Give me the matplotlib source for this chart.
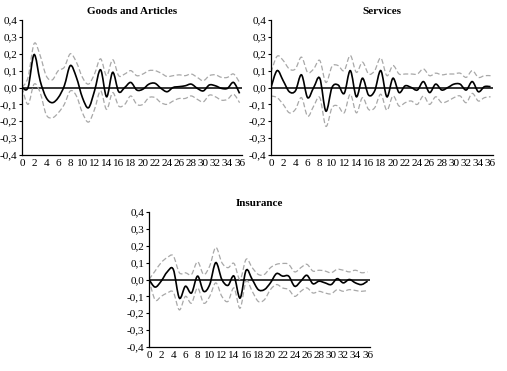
import matplotlib
matplotlib.use("Agg")
import matplotlib.pyplot as plt
from matplotlib.path import Path
from matplotlib.patches import PathPatch
from matplotlib.ticker import FuncFormatter

plt.rcParams['font.family'] = ['Liberation Serif', 'DejaVu Serif']

lags = list(range(37))

goods = [0.0, 0.0, 0.195, 0.04, -0.06, -0.09, -0.06, 0.01, 0.13, 0.06, -0.06, -0.12,
         -0.02, 0.105, -0.055, 0.09, -0.025, 0.0, 0.03, -0.015, -0.01, 0.02, 0.025,
         -0.005, -0.025, 0.0, 0.005, 0.01, 0.02, -0.005, -0.02, 0.015, 0.01, -0.005,
         -0.005, 0.03, -0.035]
goods_up = [0.0, 0.06, 0.26, 0.19, 0.07, 0.045, 0.1, 0.12, 0.2, 0.15, 0.06, 0.02,
            0.08, 0.17, 0.07, 0.165, 0.07, 0.08, 0.1, 0.07, 0.08, 0.1, 0.1, 0.085,
            0.065, 0.07, 0.075, 0.07, 0.08, 0.06, 0.04, 0.07, 0.075, 0.06, 0.06,
            0.08, 0.03]
goods_lo = [0.0, -0.1, 0.02, -0.03, -0.16, -0.18, -0.15, -0.1, -0.02, -0.05, -0.15,
            -0.205, -0.13, -0.02, -0.13, -0.03, -0.11, -0.1, -0.05, -0.1, -0.1, -0.06,
            -0.06, -0.09, -0.1, -0.08, -0.065, -0.065, -0.05, -0.07, -0.085, -0.045,
            -0.055, -0.075, -0.07, -0.04, -0.09]

services = [0.0, 0.1, 0.04, -0.025, -0.02, 0.075, -0.06, 0.0, 0.055, -0.14, 0.0,
            0.015, -0.035, 0.1, -0.055, 0.055, -0.045, -0.02, 0.1, -0.055, 0.055,
            -0.03, 0.01, 0.0, -0.015, 0.035, -0.03, 0.02, -0.015, 0.0, 0.02, 0.02,
            -0.015, 0.035, -0.025, 0.005, 0.005]
services_up = [0.09, 0.185, 0.16, 0.11, 0.11, 0.18, 0.09, 0.11, 0.16, 0.03, 0.125,
               0.13, 0.1, 0.19, 0.09, 0.15, 0.08, 0.1, 0.175, 0.07, 0.13, 0.08, 0.08,
               0.08, 0.08, 0.11, 0.07, 0.085, 0.075, 0.08, 0.08, 0.085, 0.06, 0.1,
               0.06, 0.07, 0.07]
services_lo = [-0.05, -0.06, -0.1, -0.15, -0.13, -0.06, -0.17, -0.11, -0.06, -0.23,
               -0.12, -0.11, -0.15, -0.04, -0.15, -0.06, -0.13, -0.12, -0.04, -0.135,
               -0.05, -0.11, -0.09, -0.08, -0.1, -0.05, -0.1, -0.055, -0.09, -0.08,
               -0.06, -0.05, -0.09, -0.035, -0.08, -0.06, -0.055]

insurance = [0.0, -0.045, -0.01, 0.045, 0.06, -0.11, -0.04, -0.08, 0.02, -0.07,
             -0.03, 0.1, 0.0, -0.035, 0.02, -0.11, 0.055, 0.0, -0.06, -0.06, -0.02,
             0.035, 0.02, 0.02, -0.04, -0.01, 0.025, -0.025, -0.01, -0.02, -0.03,
             0.005, -0.02, 0.0, -0.02, -0.03, -0.01]
insurance_up = [0.0, 0.05, 0.1, 0.13, 0.14, 0.04, 0.04, 0.03, 0.105, 0.03, 0.08,
                0.19, 0.1, 0.07, 0.095, 0.0, 0.12, 0.07, 0.03, 0.03, 0.07, 0.09,
                0.095, 0.09, 0.045, 0.07, 0.09, 0.05, 0.055, 0.05, 0.04, 0.06, 0.055,
                0.045, 0.055, 0.04, 0.045]
insurance_lo = [0.0, -0.12, -0.1, -0.08, -0.075, -0.18, -0.1, -0.14, -0.05, -0.14,
                -0.1, -0.02, -0.1, -0.13, -0.05, -0.17, -0.01, -0.07, -0.13, -0.12,
                -0.06, -0.03, -0.05, -0.06, -0.1, -0.07, -0.05, -0.08, -0.07, -0.08,
                -0.085, -0.06, -0.07, -0.06, -0.065, -0.07, -0.065]

panels = [
    ("Goods and Articles", goods, goods_up, goods_lo, [22/507, 1-155/371, 220/507, 135/371]),
    ("Services", services, services_up, services_lo, [271/507, 1-155/371, 222/507, 135/371]),
    ("Insurance", insurance, insurance_up, insurance_lo, [149/507, 1-347/371, 221/507, 135/371]),
]


def smooth_line(ax, xs, ys, **kw):
    # Excel-style smoothed line: cubic Bezier segments through each point
    pts = list(zip(xs, ys))
    n = len(pts)
    verts = [pts[0]]
    codes = [Path.MOVETO]
    for i in range(n - 1):
        p0 = pts[i - 1] if i > 0 else pts[i]
        p1 = pts[i]
        p2 = pts[i + 1]
        p3 = pts[i + 2] if i + 2 < n else pts[i + 1]
        c1 = (p1[0] + (p2[0] - p0[0]) / 6, p1[1] + (p2[1] - p0[1]) / 6)
        c2 = (p2[0] - (p3[0] - p1[0]) / 6, p2[1] - (p3[1] - p1[1]) / 6)
        verts += [c1, c2, p2]
        codes += [Path.CURVE4] * 3
    ax.add_patch(PathPatch(Path(verts, codes), fill=False, **kw))


fig = plt.figure(figsize=(5.07, 3.71), dpi=100)

for title, mid, up, lo, rect in panels:
    ax = fig.add_axes(rect)
    ax.axhline(0, color='black', lw=1.1, zorder=1)
    smooth_line(ax, lags, up, edgecolor='#a8a8a8', lw=0.9, linestyle=(0, (4, 2)))
    smooth_line(ax, lags, lo, edgecolor='#a8a8a8', lw=0.9, linestyle=(0, (4, 2)))
    smooth_line(ax, lags, mid, edgecolor='black', lw=1.2, zorder=3)
    ax.set_xlim(0, 36.4)
    ax.set_ylim(-0.4, 0.4)
    ax.set_xticks(range(0, 37, 2))
    ax.set_yticks([-0.4, -0.3, -0.2, -0.1, 0.0, 0.1, 0.2, 0.3, 0.4])
    ax.yaxis.set_major_formatter(FuncFormatter(lambda v, p: f"{v:.1f}".replace('.', ',')))
    ax.tick_params(axis='both', labelsize=8, length=2, width=0.8, pad=1.5)
    ax.tick_params(axis='x', length=0, pad=3)
    for s in ['top', 'right']:
        ax.spines[s].set_visible(False)
    for s in ['left', 'bottom']:
        ax.spines[s].set_linewidth(0.9)
    ax.set_title(title, fontsize=8, fontweight='bold', pad=4)

fig.savefig("out.png", dpi=100)
